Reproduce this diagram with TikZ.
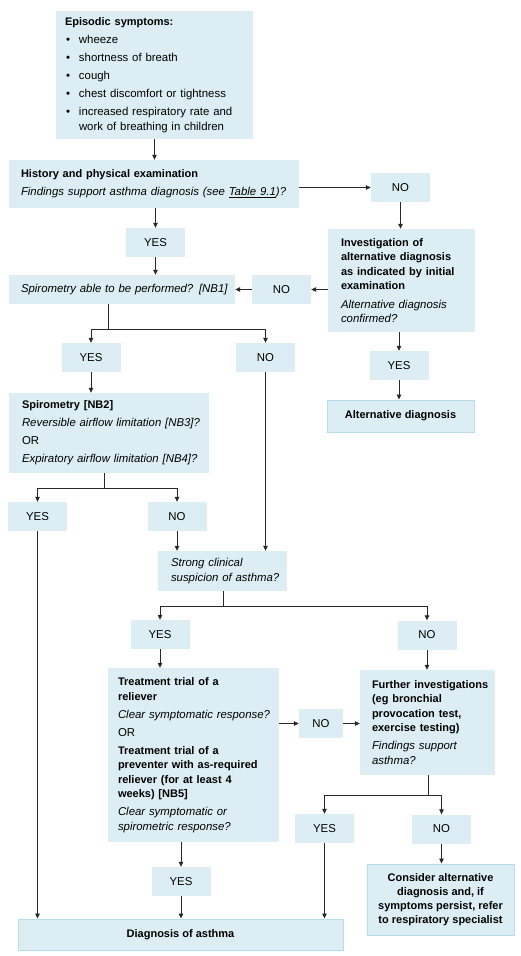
\documentclass[tikz,border=0pt]{standalone}
\usepackage{fontspec}
\setmainfont{Liberation Sans}
\usetikzlibrary{arrows.meta}
\definecolor{boxfill}{RGB}{220,238,244}
\definecolor{boxline}{RGB}{184,221,234}
\definecolor{linecol}{RGB}{40,40,40}
\newcommand\bt[1]{{\fontsize{11}{14.5}\selectfont\bfseries #1}}
\begin{document}
\begin{tikzpicture}[x=1pt,y=-1pt,
  box/.style={fill=boxfill, draw=none, inner sep=0pt, font=\fontsize{11.4}{14.5}\selectfont},
  lbox/.style={box, align=left},
  yn/.style={box, minimum width=59pt, minimum height=29pt},
  endbox/.style={box, draw=boxline, line width=1pt, font=\bfseries\fontsize{11}{14}\selectfont, align=center},
  ln/.style={draw=linecol, line width=0.8pt},
  arr/.style={ln, -{Triangle[length=5pt,width=4.5pt]}}]
\fill[white] (0,0) rectangle (520,956);
\useasboundingbox (0,0) rectangle (520,956);

% boxes
\node[lbox, minimum width=197pt, minimum height=128pt, text width=179pt] (sym) at (154.5,75)
 {\mbox{\bt{Episodic symptoms:}}\\[4pt]
  \mbox{\makebox[14pt][l]{\hspace{1pt}•}wheeze}\\[3.5pt]
  \mbox{\makebox[14pt][l]{\hspace{1pt}•}shortness of breath}\\[3.5pt]
  \mbox{\makebox[14pt][l]{\hspace{1pt}•}cough}\\[3.5pt]
  \mbox{\makebox[14pt][l]{\hspace{1pt}•}chest discomfort or tightness}\\[3.5pt]
  \mbox{\makebox[14pt][l]{\hspace{1pt}•}increased respiratory rate and}\\
  \mbox{\hspace*{14pt}work of breathing in children}};

\node[lbox, minimum width=290pt, minimum height=48pt, text width=266pt] (hist) at (154,184)
 {\mbox{\bt{History and physical examination}}\\[3.5pt]
  \mbox{\itshape Findings support asthma diagnosis (see \underline{Table 9.1})?}};

\node[yn] (no1) at (400.5,187.5) {NO};

\node[lbox, minimum width=147pt, minimum height=103pt, text width=121pt] (inv) at (401.5,280.5)
 {\mbox{\bt{Investigation of}}\\
  \mbox{\bt{alternative diagnosis}}\\
  \mbox{\bt{as indicated by initial}}\\
  \mbox{\bt{examination}}\\[4pt]
  \mbox{\itshape Alternative diagnosis}\\
  \mbox{\itshape confirmed?}};

\node[yn] (yes1) at (155.5,242.5) {YES};

\node[lbox, minimum width=226pt, minimum height=29pt, text width=202pt] (spa) at (122,289.5)
 {\mbox{\itshape Spirometry able to be performed? [NB1]}};

\node[yn] (no2) at (281.5,289.5) {NO};
\node[yn] (yes2) at (91,357.5) {YES};
\node[yn] (no3) at (265.5,357.5) {NO};
\node[yn] (yes3) at (399,365.5) {YES};

\node[endbox, minimum width=147pt, minimum height=32pt] (alt) at (400.5,416) {Alternative diagnosis};

\node[lbox, minimum width=200pt, minimum height=80pt, text width=174pt] (spi) at (109,433)
 {\mbox{\bt{Spirometry [NB2]}}\\[3.5pt]
  \mbox{\itshape Reversible airflow limitation [NB3]?}\\[3.5pt]
  \mbox{OR}\\[3.5pt]
  \mbox{\itshape Expiratory airflow limitation [NB4]?}};

\node[yn] (yes4) at (37.5,516.5) {YES};
\node[yn] (no4) at (177,516.5) {NO};

\node[lbox, minimum width=129pt, minimum height=40pt, text width=103pt] (str) at (222.5,571)
 {\mbox{\itshape Strong clinical}\\
  \mbox{\itshape suspicion of asthma?}};

\node[yn] (yes5) at (160,634.5) {YES};
\node[yn] (no5) at (427,635) {NO};

\node[lbox, minimum width=171pt, minimum height=174pt, text width=151pt] (trt) at (193.5,755)
 {\mbox{\bt{Treatment trial of a}}\\
  \mbox{\bt{reliever}}\\[3.5pt]
  \mbox{\itshape Clear symptomatic response?}\\[3.5pt]
  \mbox{OR}\\[3.5pt]
  \mbox{\bt{Treatment trial of a}}\\
  \mbox{\bt{preventer with as-required}}\\
  \mbox{\bt{reliever (for at least 4}}\\
  \mbox{\bt{weeks) [NB5]}}\\[3.5pt]
  \mbox{\itshape Clear symptomatic or}\\
  \mbox{\itshape spirometric response?}};

\node[yn, minimum width=44pt] (no6) at (321,723.5) {NO};

\node[lbox, minimum width=135pt, minimum height=105pt, text width=111pt] (fur) at (427.5,722.5)
 {\mbox{\bt{Further investigations}}\\
  \mbox{\bt{(eg bronchial}}\\
  \mbox{\bt{provocation test,}}\\
  \mbox{\bt{exercise testing)}}\\[3.5pt]
  \mbox{\itshape Findings support}\\
  \mbox{\itshape asthma?}};

\node[yn] (yes6) at (324.5,828.5) {YES};
\node[yn] (no7) at (441.5,829) {NO};

\node[endbox, minimum width=147pt, minimum height=71pt] (con) at (440.5,899.5)
 {Consider alternative\\diagnosis and, if\\symptoms persist, refer\\to respiratory specialist};

\node[yn] (yes7) at (181,881.5) {YES};

\node[endbox, minimum width=325pt, minimum height=31pt] (dia) at (180.5,934.5) {Diagnosis of asthma};

% connectors
\draw[arr] (sym.south) -- (sym.south |- hist.north);
\draw[arr] (hist.east |- no1.west) -- (no1.west);
\draw[arr] (no1.south) -- (no1.south |- inv.north);
\draw[arr] (yes1.north |- hist.south) -- (yes1.north);
\draw[arr] (yes1.south) -- (yes1.south |- spa.north);
\draw[arr] (inv.west |- no2.east) -- (no2.east);
\draw[arr] (no2.west) -- (spa.east);
\coordinate (b1) at (108,329);
\draw[ln] (b1 |- spa.south) -- (b1);
\draw[arr] (b1) -| (yes2.north);
\draw[arr] (b1) -| (no3.north);
\draw[arr] (yes2.south) -- (yes2.south |- spi.north);
\draw[arr] (no3.south) -- (no3.south |- str.north);
\draw[arr] (yes3.north |- inv.south) -- (yes3.north);
\draw[arr] (yes3.south) -- (yes3.south |- alt.north);
\coordinate (b2) at (104,488);
\draw[ln] (b2 |- spi.south) -- (b2);
\draw[arr] (b2) -| (yes4.north);
\draw[arr] (b2) -| (no4.north);
\draw[arr] (yes4.south) -- (yes4.south |- dia.north);
\draw[arr] (no4.south) -- (no4.south |- str.north);
\coordinate (b3) at (223,606);
\draw[ln] (b3 |- str.south) -- (b3);
\draw[arr] (b3) -| (yes5.north);
\draw[arr] (b3) -| (no5.north);
\draw[arr] (yes5.south) -- (yes5.south |- trt.north);
\draw[arr] (no5.south) -- (no5.south |- fur.north);
\draw[arr] (trt.east |- no6.west) -- (no6.west);
\draw[arr] (no6.east) -- (no6.east -| fur.west);
\coordinate (b4) at (428,795);
\draw[ln] (b4 |- fur.south) -- (b4);
\draw[arr] (b4) -| (yes6.north);
\draw[arr] (b4) -| (no7.north);
\draw[arr] (yes6.south) -- (yes6.south |- dia.north);
\draw[arr] (no7.south) -- (no7.south |- con.north);
\draw[arr] (yes7.north |- trt.south) -- (yes7.north);
\draw[arr] (yes7.south) -- (yes7.south |- dia.north);
\end{tikzpicture}
\end{document}
